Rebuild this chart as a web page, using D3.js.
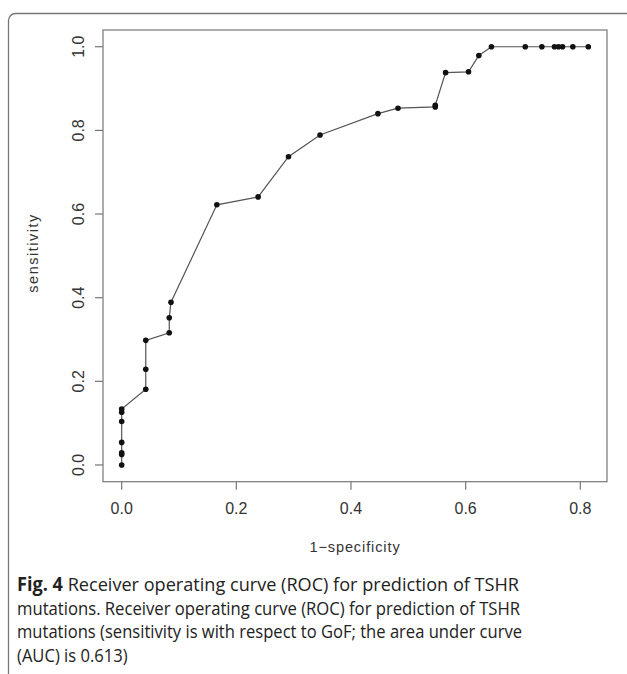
<!DOCTYPE html>
<html>
<head>
<meta charset="utf-8">
<script src="https://cdn.jsdelivr.net/npm/d3@7"></script>
<style>
  body { margin: 0; background: #fff; }
  svg { display: block; }
</style>
</head>
<body>
<svg width="627" height="674"></svg>
<script>
// ROC points (1-specificity, sensitivity)
var fpr = [0, 0, 0, 0, 0, 0, 0, 0.042, 0.042, 0.042, 0.083, 0.083, 0.086,
           0.166, 0.238, 0.291, 0.346, 0.447, 0.482, 0.547, 0.547, 0.565,
           0.605, 0.623, 0.645, 0.704, 0.733, 0.755, 0.762, 0.769, 0.787, 0.814];
var tpr = [0, 0.025, 0.029, 0.054, 0.104, 0.126, 0.134, 0.181, 0.229, 0.298,
           0.316, 0.352, 0.389, 0.622, 0.641, 0.737, 0.789, 0.840, 0.853,
           0.856, 0.860, 0.938, 0.940, 0.979, 1, 1, 1, 1, 1, 1, 1, 1];
var xTicks = [0, 0.2, 0.4, 0.6, 0.8];
var yTicks = [0, 0.2, 0.4, 0.6, 0.8, 1.0];
var captionLines = [
  "Receiver operating curve (ROC) for prediction of TSHR",
  "mutations. Receiver operating curve (ROC) for prediction of TSHR",
  "mutations (sensitivity is with respect to GoF; the area under curve",
  "(AUC) is 0.613)"
];

var svg = d3.select("svg");
var box = {left: 103, right: 607, top: 30, bottom: 481.7};

// R style: axis range padded 4% each side
var x = d3.scaleLinear().domain([-0.0326, 0.8466]).range([box.left, box.right]);
var y = d3.scaleLinear().domain([-0.04, 1.04]).range([box.bottom, box.top]);

// figure frame
svg.append("rect")
  .attr("x", 8.5).attr("y", 13.5)
  .attr("width", 700).attr("height", 700)
  .attr("rx", 7)
  .attr("fill", "none")
  .attr("stroke", "#777").attr("stroke-width", 1.3);

// plot box
svg.append("rect")
  .attr("x", box.left).attr("y", box.top)
  .attr("width", box.right - box.left).attr("height", box.bottom - box.top)
  .attr("fill", "none").attr("stroke", "#777").attr("stroke-width", 1.2);

var tickFont = "'Liberation Sans', Arial, sans-serif";

// x axis
var gx = svg.append("g");
gx.selectAll("line").data(xTicks).enter().append("line")
  .attr("x1", function(d){ return x(d); }).attr("x2", function(d){ return x(d); })
  .attr("y1", box.bottom).attr("y2", box.bottom + 8)
  .attr("stroke", "#777").attr("stroke-width", 1.2);
gx.selectAll("text").data(xTicks).enter().append("text")
  .attr("x", function(d){ return x(d); })
  .attr("y", 514)
  .attr("text-anchor", "middle")
  .style("font-family", tickFont).style("font-size", "16px").style("fill", "#333")
  .text(function(d){ return d3.format(".1f")(d); });

// y axis
var gy = svg.append("g");
gy.selectAll("line").data(yTicks).enter().append("line")
  .attr("y1", function(d){ return y(d); }).attr("y2", function(d){ return y(d); })
  .attr("x1", box.left - 8).attr("x2", box.left)
  .attr("stroke", "#777").attr("stroke-width", 1.2);
gy.selectAll("text").data(yTicks).enter().append("text")
  .attr("transform", function(d){ return "translate(84," + y(d) + ") rotate(-90)"; })
  .attr("text-anchor", "middle")
  .style("font-family", tickFont).style("font-size", "16px").style("fill", "#333")
  .text(function(d){ return d3.format(".1f")(d); });

// axis titles
svg.append("text")
  .attr("x", (box.left + box.right) / 2).attr("y", 552)
  .attr("text-anchor", "middle")
  .style("font-family", tickFont).style("font-size", "14.5px")
  .style("letter-spacing", "0.9px").style("fill", "#333")
  .text("1\u2212specificity");
svg.append("text")
  .attr("transform", "translate(38,253) rotate(-90)")
  .attr("text-anchor", "middle")
  .style("font-family", tickFont).style("font-size", "14.5px")
  .style("letter-spacing", "1.5px").style("fill", "#333")
  .text("sensitivity");

// curve
var pts = fpr.map(function(v, i){ return [v, tpr[i]]; });
svg.append("path")
  .datum(pts)
  .attr("fill", "none").attr("stroke", "#555").attr("stroke-width", 1.2)
  .attr("d", d3.line().x(function(d){ return x(d[0]); }).y(function(d){ return y(d[1]); }));
svg.selectAll("circle.pt").data(pts).enter().append("circle")
  .attr("class", "pt")
  .attr("cx", function(d){ return x(d[0]); })
  .attr("cy", function(d){ return y(d[1]); })
  .attr("r", 2.8)
  .attr("fill", "#111");

// caption (humanist face squeezed to the measured line widths)
var capFont = "'Open Sans', 'Noto Sans', sans-serif";
var cap = svg.append("g").style("font-family", capFont).style("font-size", "19px").style("fill", "#222");
var lineY = [591, 614.5, 638, 661.5];
var widths = [502, 503, 505];
var first = cap.append("text").attr("x", 17).attr("y", lineY[0]);
first.append("tspan").style("font-weight", "bold").text("Fig. 4");
first.append("tspan").text(" " + captionLines[0]);
first.attr("textLength", widths[0]).attr("lengthAdjust", "spacingAndGlyphs");
var squeeze = 1;
captionLines.slice(1).forEach(function(t, i){
  var el = cap.append("text")
    .attr("x", 17).attr("y", lineY[i + 1])
    .text(t);
  if (i < 2) {
    var natural = el.node().getComputedTextLength();
    squeeze = widths[i + 1] / natural;
    el.attr("textLength", widths[i + 1]);
  } else {
    el.attr("textLength", el.node().getComputedTextLength() * squeeze);
  }
  el.attr("lengthAdjust", "spacingAndGlyphs");
});
</script>
</body>
</html>
